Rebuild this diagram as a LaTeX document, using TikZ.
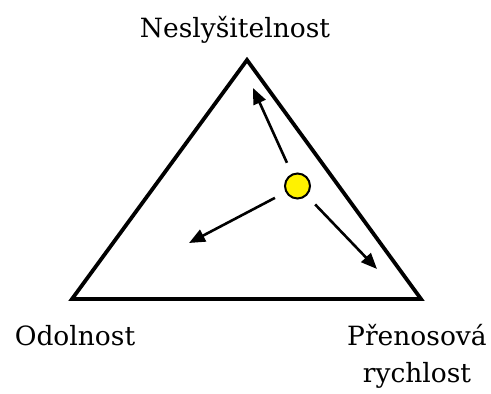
\documentclass[tikz,border=0pt]{standalone}
\usepackage{fontspec}
\setmainfont{DejaVu Serif}
\usetikzlibrary{arrows.meta}
\begin{document}
\begin{tikzpicture}[x=1pt,y=-1pt,
  lbl/.style={font=\fontsize{26.5}{32}\selectfont, inner sep=0pt, anchor=base},
  arr/.style={line width=2.6pt, shorten <=12pt, -{Triangle[length=16pt,width=13pt]}}]
\useasboundingbox (0,0) rectangle (491,394);
\coordinate (T) at (247,60);
\coordinate (L) at (72,299);
\coordinate (R) at (421,299);
\draw[line width=3.8pt, line join=miter] (T) -- (L) -- (R) -- cycle;
\node[circle, draw, line width=2pt, fill=yellow, minimum size=25pt, inner sep=0pt] (c) at (297.5,186) {};
\coordinate (a1) at (253,88);
\coordinate (a2) at (189,243);
\coordinate (a3) at (377,269);
\draw[arr] (c) -- (a1);
\draw[arr] (c) -- (a2);
\draw[arr] (c) -- (a3);
\node[lbl] (n1) at (235,37) {Neslyšitelnost};
\node[lbl] (n2) at (75,345) {Odolnost};
\node[lbl] (n3) at (417,345) {Přenosová};
\node[lbl] (n4) at (417,382) {rychlost};
\end{tikzpicture}
\end{document}
